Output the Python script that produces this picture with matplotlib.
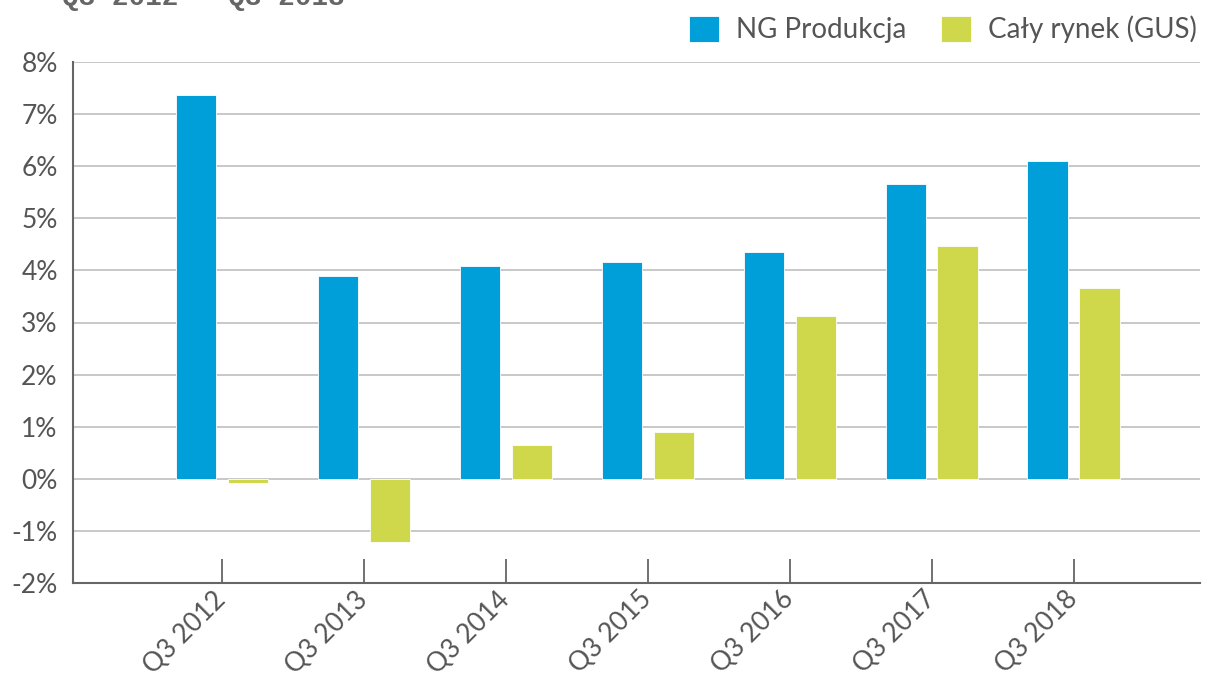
import matplotlib
matplotlib.use("Agg")
import matplotlib.pyplot as plt
import numpy as np

categories = ["Q3 2012", "Q3 2013", "Q3 2014", "Q3 2015", "Q3 2016", "Q3 2017", "Q3 2018"]
ng_produkcja = [7.37, 3.90, 4.09, 4.17, 4.36, 5.66, 6.10]
caly_rynek = [-0.08, -1.21, 0.65, 0.90, 3.13, 4.47, 3.67]
yticks = [-2, -1, 0, 1, 2, 3, 4, 5, 6, 7, 8]

BLUE = "#009FDA"
GREEN = "#CFD84A"
TXT = "#555555"

plt.rcParams["font.family"] = ["Lato", "DejaVu Sans"]

fig = plt.figure(figsize=(12.05, 6.76), dpi=100)
ax = fig.add_axes([73 / 1205, 1 - 583 / 676, (1200 - 73) / 1205, (583 - 62) / 676])

x = np.arange(len(categories))
off = 0.183
w = 0.285
ax.bar(x - off, ng_produkcja, w, color=BLUE, edgecolor="white", linewidth=0.6, zorder=3, label="NG Produkcja")
ax.bar(x + off, caly_rynek, w, color=GREEN, edgecolor="white", linewidth=0.6, zorder=3, label="Cały rynek (GUS)")

ax.set_ylim(-2, 8)
ax.set_xlim(-1.05, 6.89)
ax.set_yticks(yticks)
ax.set_yticklabels([f"{v}%" for v in yticks], fontsize=19, color=TXT)
for v in yticks:
    if v > -2:
        ax.axhline(v, color="#c4c4c4", linewidth=1.3, zorder=1)

ax.set_xticks(x)
ax.set_xticklabels(categories, rotation=45, ha="right", va="center", rotation_mode="anchor",
                   fontsize=19, color=TXT)
ax.tick_params(axis="x", direction="in", length=17, width=1.3, color="#666666", pad=9)
ax.tick_params(axis="y", length=0, pad=11)

for s in ["top", "right"]:
    ax.spines[s].set_visible(False)
for s in ["left", "bottom"]:
    ax.spines[s].set_color("#666666")
    ax.spines[s].set_linewidth(1.5)

leg = fig.legend(loc="upper right", bbox_to_anchor=(0.998, 0.985), ncol=2, frameon=False,
                 fontsize=20, handlelength=1.1, handleheight=1.1, columnspacing=1.25,
                 handletextpad=0.6, borderaxespad=0.0, borderpad=0.2)
for t in leg.get_texts():
    t.set_color(TXT)

fig.text(62 / 1205, 1 - 5 / 676, "Q3 2012 – Q3 2018", fontsize=20, family=["Liberation Mono", "DejaVu Sans Mono"],
         weight="bold", color="#666666", va="baseline", ha="left")

fig.savefig("out.png", dpi=100)
